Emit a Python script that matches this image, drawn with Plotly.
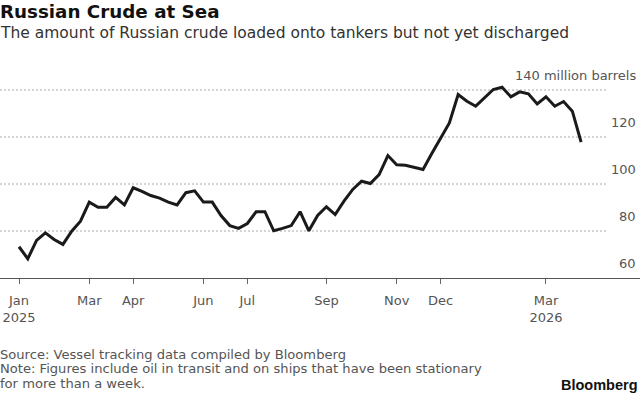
import pandas as pd
import plotly.graph_objects as go

# ---- data (weekly, starting first week of Jan 2025) ----
start_date = "2025-01-05"
values = [
    73.3, 68.2, 76.0, 79.2, 76.4, 74.3, 79.9, 84.2, 92.3, 90.1,
    90.1, 94.3, 91.1, 98.4, 96.9, 95.1, 94.0, 92.3, 91.1, 96.3,
    97.1, 92.3, 92.3, 86.6, 82.3, 81.1, 83.2, 88.2, 88.2, 80.1,
    81.1, 82.3, 88.2, 80.1, 86.6, 90.3, 87.0, 92.7, 97.7, 101.2,
    100.2, 104.0, 112.1, 108.2, 108.0, 107.1, 106.2, 113.0, 119.2, 126.0,
    138.1, 135.2, 133.1, 136.7, 140.2, 141.2, 137.1, 139.2, 138.4, 134.1,
    137.1, 133.1, 135.1, 131.0, 117.8,
]
dates = pd.date_range(start_date, periods=len(values), freq="7D")

tick_dates = ["2025-01-05", "2025-03-02", "2025-04-06", "2025-06-01", "2025-07-06",
              "2025-09-07", "2025-11-02", "2025-12-07", "2026-03-01"]
tick_text = ["Jan<br>2025", "Mar", "Apr", "Jun", "Jul", "Sep", "Nov", "Dec", "Mar<br>2026"]

y_grid = [80, 100, 120, 140]
y_labels = {60: "60", 80: "80", 100: "100", 120: "120", 140: "140 million barrels"}

FONT = "DejaVu Sans"
GRAY = "#555555"

# ---- layout geometry ----
W, H = 644, 397
plot_left, plot_right = 0, 640
plot_top, plot_bottom = 60, 278
px_per_week = 8.783
x0_px = 19  # pixel of first data point
t0 = pd.Timestamp(start_date)
range_start = t0 + pd.Timedelta(days=7 * (plot_left - x0_px) / px_per_week)
range_end = t0 + pd.Timedelta(days=7 * (plot_right - x0_px) / px_per_week)
px_per_unit = 2.35
y_min = 60
y_max = y_min + (plot_bottom - plot_top) / px_per_unit

fig = go.Figure()
fig.add_trace(go.Scatter(
    x=dates, y=values, mode="lines",
    line=dict(color="#1a1a1a", width=3),
    hoverinfo="skip", showlegend=False,
))

shapes = []
for g in y_grid:
    shapes.append(dict(type="line", xref="paper", yref="y", x0=0, x1=607 / 640,
                       y0=g, y1=g, line=dict(color="#aaaaaa", width=1, dash="2px,2px"),
                       layer="below"))

annotations = []
for v, t in y_labels.items():
    annotations.append(dict(xref="paper", yref="y", x=1, y=v, text=t, showarrow=False,
                            xanchor="right", yanchor="middle", xshift=-2, yshift=15,
                            font=dict(family=FONT, size=13, color=GRAY)))

annotations += [
    dict(xref="paper", yref="paper", x=0, y=1, text="<b>Russian Crude at Sea</b>",
         showarrow=False, xanchor="left", yanchor="middle", xshift=-2,
         yshift=(plot_top - 11), font=dict(family=FONT, size=18.3, color="#111111")),
    dict(xref="paper", yref="paper", x=0, y=1,
         text="The amount of Russian crude loaded onto tankers but not yet discharged",
         showarrow=False, xanchor="left", yanchor="middle", xshift=-2,
         yshift=(plot_top - 33), font=dict(family=FONT, size=15.5, color="#333333")),
]
footer = [
    "Source: Vessel tracking data compiled by Bloomberg",
    "Note: Figures include oil in transit and on ships that have been stationary",
    "for more than a week.",
]
footer_y = [354.6, 368.8, 383.0]
for t, yy in zip(footer, footer_y):
    annotations.append(dict(xref="paper", yref="paper", x=0, y=0, text=t, showarrow=False,
                            xanchor="left", yanchor="middle", xshift=-2,
                            yshift=-(yy - plot_bottom),
                            font=dict(family=FONT, size=13.1, color=GRAY)))
annotations.append(dict(xref="paper", yref="paper", x=1, y=0, text="<b>Bloomberg</b>",
                        showarrow=False, xanchor="right", yanchor="middle", xshift=0,
                        yshift=-(385 - plot_bottom),
                        font=dict(family="Liberation Sans", size=14.5, color="#111111")))

fig.update_layout(
    width=W, height=H,
    margin=dict(l=plot_left, r=W - plot_right, t=plot_top, b=H - plot_bottom, pad=0),
    paper_bgcolor="white", plot_bgcolor="white",
    shapes=shapes, annotations=annotations,
    xaxis=dict(
        type="date", range=[range_start, range_end],
        tickmode="array", tickvals=tick_dates, ticktext=tick_text,
        ticks="outside", ticklen=5, tickcolor="#666666", tickwidth=1,
        ticklabelstandoff=5,
        showline=True, linecolor="#555555", linewidth=1,
        showgrid=False, zeroline=False,
        tickfont=dict(family=FONT, size=13, color=GRAY),
    ),
    yaxis=dict(range=[y_min, y_max], showgrid=False, zeroline=False,
               showticklabels=False, ticks=""),
)

fig.write_html("out.html", config={"displayModeBar": False},
               post_script="document.body.style.margin='0';document.body.style.overflow='hidden';")
